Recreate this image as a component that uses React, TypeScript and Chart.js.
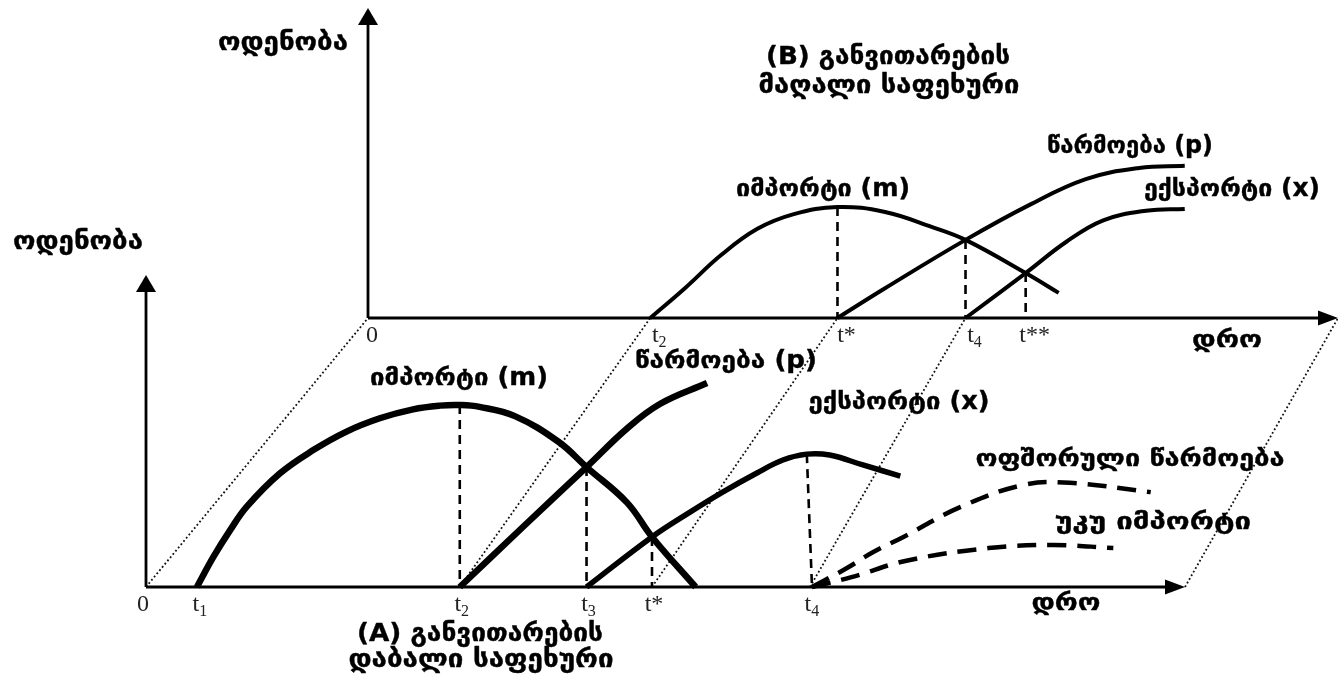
import React, { useEffect, useRef } from "react";
import { Chart, registerables } from "chart.js";

Chart.register(...registerables);

// ---------------- DATA ----------------
// Panel A – low development stage (time units 0..100 along the axis, quantity units 0..100)
const A_TICK_LABELS = ["0", "t1", "t2", "t3", "t*", "t4"];
const A_TICK_TIMES = [0, 5.0, 30.2, 42.4, 48.7, 63.9];
const A_AXIS_LEN = [100, 101];

const A_IMPORT = [[4.9, 0], [6.5, 9.8], [8.1, 18.4], [9.7, 26.0], [12.9, 36.8], [16.1, 44.3], [19.3, 50.3], [22.5, 54.6], [25.7, 57.5], [28.3, 58.7], [30.2, 58.9], [32.1, 58.3], [35.5, 55.3], [39.7, 47.0], [42.4, 38.8], [46.3, 27.3], [48.7, 16.2], [52.9, 0]];
const A_PRODUCTION = [[30.2, 0], [36.3, 19.5], [42.4, 38.8], [46.3, 51.3], [49.5, 59.3], [54.0, 66.0]];
const A_EXPORT = [[42.4, 0], [48.7, 16.2], [52.4, 24.3], [55.5, 30.7], [58.8, 36.9], [61.3, 41.1], [63.6, 43.0], [65.8, 42.7], [69.0, 39.5], [72.6, 35.9]];
const A_OFFSHORE = [[64.1, 0], [67.3, 5.8], [70.0, 11.3], [72.9, 16.2], [78.2, 25.6], [84.4, 33.0], [88.9, 33.7], [96.7, 30.7]];
const A_REIMPORT = [[64.1, 0], [67.9, 3.2], [73.3, 8.6], [81.1, 12.6], [87.3, 13.6], [93.1, 12.6]];
// dashed guides: [top time, top quantity, bottom time]
const A_GUIDES = [[30.2, 58.9, 30.2], [42.4, 38.8, 42.4], [48.7, 16.2, 48.7], [63.6, 43.0, 64.1]];

// Panel B – high development stage
const B_TICK_LABELS = ["0", "t2", "t*", "t4", "t**"];
const B_TICK_TIMES = [0, 29.1, 48.4, 61.6, 67.8];
const B_AXIS_LEN = [100, 100];

const B_IMPORT = [[29.1, 0], [32.7, 9.7], [36.4, 20.3], [40.1, 28.7], [43.9, 33.5], [48.4, 35.8], [53.3, 34.2], [58.1, 29.4], [61.6, 25.2], [67.8, 14.5], [71.2, 8.1]];
const B_PRODUCTION = [[48.4, 0], [53.3, 9.6], [61.6, 25.2], [68.2, 36.5], [74.0, 44.8], [79.5, 48.4], [84.2, 49.1]];
const B_EXPORT = [[61.6, 0], [67.8, 14.5], [72.0, 24.6], [75.8, 31.5], [80.2, 34.6], [84.2, 35.2]];
const B_GUIDES = [[48.4, 35.8], [61.6, 25.2], [67.8, 14.5]];

// matching time marks linked between the panels
const LINK_A_TIMES = [0, 30.2, 48.7, 63.9, 100];
const LINK_B_TIMES = [0, 29.1, 48.4, 61.6, 100];

// ---------------- LAYOUT ----------------
const W = 1338;
const H = 677;
const A_ORIGIN_PX = [146, 587];
const A_UNIT_PX = [10.39, 3.09];
const B_ORIGIN_PX = [368, 318];
const B_UNIT_PX = [9.7, 3.1];

const X_MIN = -A_ORIGIN_PX[0] / A_UNIT_PX[0];
const X_MAX = (W - A_ORIGIN_PX[0]) / A_UNIT_PX[0];
const Y_MIN = -(H - A_ORIGIN_PX[1]) / A_UNIT_PX[1];
const Y_MAX = A_ORIGIN_PX[1] / A_UNIT_PX[1];

const B_X0 = (B_ORIGIN_PX[0] - A_ORIGIN_PX[0]) / A_UNIT_PX[0];
const B_Y0 = (A_ORIGIN_PX[1] - B_ORIGIN_PX[1]) / A_UNIT_PX[1];
const B_SX = B_UNIT_PX[0] / A_UNIT_PX[0];
const B_SY = B_UNIT_PX[1] / A_UNIT_PX[1];

const ptA = (p: number[]) => ({ x: p[0], y: p[1] });
const ptB = (p: number[]) => ({ x: B_X0 + p[0] * B_SX, y: B_Y0 + p[1] * B_SY });

const GEO = '"DejaVu Sans", sans-serif';
const SERIF = '"Liberation Serif", "DejaVu Serif", serif';

// text annotations: [text, centerX, centerY, width, fontSize]
const LABELS: [string, number, number, number, number][] = [
  ["ოდენობა", 283, 43, 130, 25],
  ["ოდენობა", 78, 242, 130, 25],
  ["(B) განვითარების", 888, 57, 244, 25],
  ["მაღალი საფეხური", 889, 86, 261, 25],
  ["იმპორტი (m)", 823, 190, 174, 24],
  ["წარმოება (p)", 1130, 147, 166, 24],
  ["ექსპორტი (x)", 1232, 190, 176, 24],
  ["დრო", 1227, 341, 70, 24],
  ["იმპორტი (m)", 459, 379, 178, 24],
  ["წარმოება (p)", 726, 362, 182, 24],
  ["ექსპორტი (x)", 899, 403, 181, 24],
  ["ოფშორული წარმოება", 1130, 460, 309, 24],
  ["უკუ იმპორტი", 1153, 523, 196, 24],
  ["დრო", 1066, 604, 69, 24],
  ["(A) განვითარების", 480, 634, 246, 25],
  ["დაბალი საფეხური", 481, 660, 265, 25],
];

function drawFitText(ctx: CanvasRenderingContext2D, text: string, cx: number, cy: number, width: number, size: number) {
  ctx.font = `bold ${size}px ${GEO}`;
  const w = ctx.measureText(text).width;
  const s = w > 0 ? width / w : 1;
  ctx.save();
  ctx.translate(cx, cy);
  ctx.scale(s, 1);
  ctx.textAlign = "center";
  ctx.textBaseline = "middle";
  ctx.fillStyle = "#000";
  ctx.strokeStyle = "#000";
  ctx.lineWidth = 0.4;
  ctx.lineJoin = "round";
  ctx.fillText(text, 0, 0);
  ctx.strokeText(text, 0, 0);
  ctx.restore();
}

function drawTick(ctx: CanvasRenderingContext2D, label: string, cx: number, cy: number) {
  ctx.save();
  ctx.fillStyle = "#222";
  ctx.textBaseline = "middle";
  const m = /^t(\d)$/.exec(label);
  if (m) {
    ctx.font = `24px ${SERIF}`;
    const wMain = ctx.measureText("t").width;
    ctx.font = `16px ${SERIF}`;
    const wSub = ctx.measureText(m[1]).width;
    const x = cx - (wMain + wSub) / 2;
    ctx.textAlign = "left";
    ctx.font = `24px ${SERIF}`;
    ctx.fillText("t", x, cy);
    ctx.font = `16px ${SERIF}`;
    ctx.fillText(m[1], x + wMain, cy + 7);
  } else {
    ctx.font = `24px ${SERIF}`;
    ctx.textAlign = "center";
    ctx.fillText(label, cx, cy);
  }
  ctx.restore();
}

function arrow(ctx: CanvasRenderingContext2D, tipX: number, tipY: number, dx: number, dy: number, len: number, half: number) {
  const bx = tipX - dx * len;
  const by = tipY - dy * len;
  ctx.beginPath();
  ctx.moveTo(tipX, tipY);
  ctx.lineTo(bx - dy * half, by + dx * half);
  ctx.lineTo(bx + dy * half, by - dx * half);
  ctx.closePath();
  ctx.fillStyle = "#000";
  ctx.fill();
}

const annotationPlugin = {
  id: "annotations",
  afterDraw(chart: any) {
    const ctx = chart.ctx as CanvasRenderingContext2D;
    const xs = chart.scales.x;
    const ys = chart.scales.y;
    const px = (p: { x: number; y: number }) => [xs.getPixelForValue(p.x), ys.getPixelForValue(p.y)];

    // arrowheads
    const aY = px(ptA([0, A_AXIS_LEN[1]]));
    arrow(ctx, aY[0], aY[1], 0, -1, 17, 10);
    const aX = px(ptA([A_AXIS_LEN[0], 0]));
    arrow(ctx, aX[0], aX[1], 1, 0, 20, 7.5);
    const bY = px(ptB([0, B_AXIS_LEN[1]]));
    arrow(ctx, bY[0], bY[1], 0, -1, 17, 10);
    const bX = px(ptB([B_AXIS_LEN[0], 0]));
    arrow(ctx, bX[0], bX[1], 1, 0, 20, 7.5);

    // tick labels
    A_TICK_LABELS.forEach((lab, i) => {
      const p = px(ptA([A_TICK_TIMES[i], 0]));
      drawTick(ctx, lab, p[0] + (lab === "0" ? -3 : 2), p[1] + 18);
    });
    B_TICK_LABELS.forEach((lab, i) => {
      const p = px(ptB([B_TICK_TIMES[i], 0]));
      drawTick(ctx, lab, p[0] + (lab === "0" ? 4 : 9), p[1] + 18);
    });

    LABELS.forEach(([t, x, y, w, s]) => drawFitText(ctx, t, x, y, w, s));
  },
};

function lineSet(points: { x: number; y: number }[], opts: any) {
  return {
    data: points,
    showLine: true,
    pointRadius: 0,
    pointHoverRadius: 0,
    fill: false,
    borderColor: "#000",
    borderCapStyle: "butt",
    borderJoinStyle: "round",
    tension: 0,
    ...opts,
  };
}

export default function App() {
  const ref = useRef<HTMLCanvasElement | null>(null);

  useEffect(() => {
    if (!ref.current) return;
    const curve = { tension: 0.4 };
    const datasets: any[] = [];

    // links between panels (dotted)
    LINK_A_TIMES.forEach((t, i) => {
      datasets.push(
        lineSet([ptA([t, 0]), ptB([LINK_B_TIMES[i], 0])], {
          borderColor: "#111",
          borderWidth: 1.8,
          borderDash: [1.8, 2.4],
          order: 10,
        })
      );
    });

    // axes
    const axis = { borderWidth: 2.8, order: 6 };
    datasets.push(lineSet([ptA([0, 0]), ptA([0, A_AXIS_LEN[1] - 3])], axis));
    datasets.push(lineSet([ptA([0, 0]), ptA([A_AXIS_LEN[0] - 1, 0])], axis));
    datasets.push(lineSet([ptB([0, 0]), ptB([0, B_AXIS_LEN[1] - 3])], axis));
    datasets.push(lineSet([ptB([0, 0]), ptB([B_AXIS_LEN[0] - 1, 0])], axis));

    // guides
    A_GUIDES.forEach((g) => {
      datasets.push(lineSet([ptA([g[0], g[1]]), ptA([g[2], 0])], { borderWidth: 2.6, borderDash: [9, 6], order: 4 }));
    });
    B_GUIDES.forEach((g) => {
      datasets.push(lineSet([ptB([g[0], g[1]]), ptB([g[0], 0])], { borderWidth: 2.6, borderDash: [9, 6], order: 4 }));
    });

    // panel A curves
    datasets.push(lineSet(A_IMPORT.map(ptA), { borderWidth: 6.5, order: 1, ...curve }));
    datasets.push(lineSet(A_PRODUCTION.map(ptA), { borderWidth: 6.5, order: 1, ...curve }));
    datasets.push(lineSet(A_EXPORT.map(ptA), { borderWidth: 5.5, order: 1, ...curve }));
    datasets.push(lineSet(A_OFFSHORE.map(ptA), { borderWidth: 4.5, borderDash: [19, 11], order: 1, ...curve }));
    datasets.push(lineSet(A_REIMPORT.map(ptA), { borderWidth: 4.5, borderDash: [19, 11], order: 1, ...curve }));

    // panel B curves
    datasets.push(lineSet(B_IMPORT.map(ptB), { borderWidth: 4, order: 1, ...curve }));
    datasets.push(lineSet(B_PRODUCTION.map(ptB), { borderWidth: 4, order: 1, ...curve }));
    datasets.push(lineSet(B_EXPORT.map(ptB), { borderWidth: 4, order: 1, ...curve }));

    const chart = new Chart(ref.current, {
      type: "scatter",
      data: { datasets },
      options: {
        animation: false,
        responsive: true,
        maintainAspectRatio: false,
        layout: { padding: 0 },
        events: [],
        scales: {
          x: { type: "linear", min: X_MIN, max: X_MAX, display: false },
          y: { type: "linear", min: Y_MIN, max: Y_MAX, display: false },
        },
        plugins: { legend: { display: false }, tooltip: { enabled: false } },
      },
      plugins: [annotationPlugin],
    } as any);

    return () => chart.destroy();
  }, []);

  return (
    <div style={{ position: "absolute", left: 0, top: 0, width: W, height: H, background: "#fff" }}>
      <canvas ref={ref} />
    </div>
  );
}
